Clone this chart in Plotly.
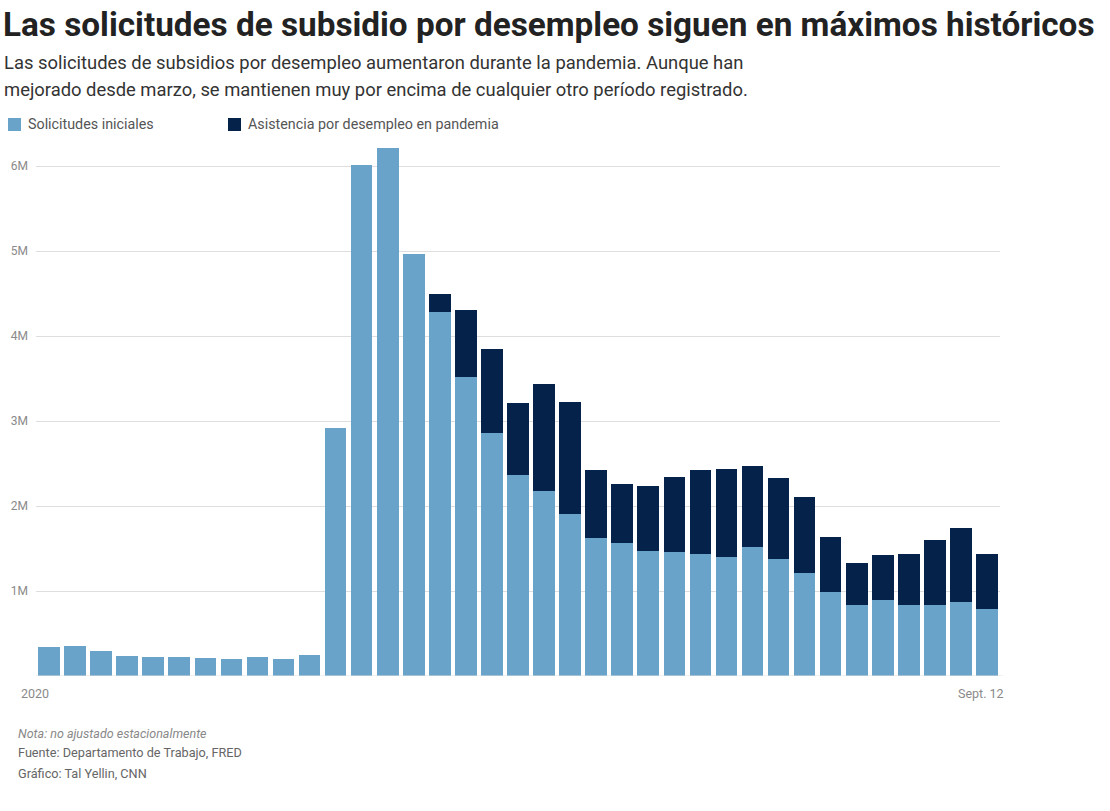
import plotly.graph_objects as go

weeks = ["Jan 4", "Jan 11", "Jan 18", "Jan 25", "Feb 1", "Feb 8", "Feb 15", "Feb 22",
         "Feb 29", "Mar 7", "Mar 14", "Mar 21", "Mar 28", "Apr 4", "Apr 11", "Apr 18",
         "Apr 25", "May 2", "May 9", "May 16", "May 23", "May 30", "Jun 6", "Jun 13",
         "Jun 20", "Jun 27", "Jul 4", "Jul 11", "Jul 18", "Jul 25", "Aug 1", "Aug 8",
         "Aug 15", "Aug 22", "Aug 29", "Sep 5", "Sep 12"]

# millions
initial_claims = [0.345, 0.355, 0.29, 0.24, 0.225, 0.225, 0.215, 0.205, 0.225, 0.205, 0.251,
                  2.92, 6.015, 6.21, 4.965, 4.28, 3.52, 2.86, 2.36, 2.18, 1.91, 1.62, 1.57,
                  1.47, 1.46, 1.43, 1.40, 1.52, 1.38, 1.21, 0.99, 0.84, 0.89, 0.83, 0.84,
                  0.87, 0.79]
pua_claims = [0, 0, 0, 0, 0, 0, 0, 0, 0, 0, 0,
              0, 0, 0, 0, 0.21, 0.79, 0.99, 0.85, 1.25, 1.31, 0.80, 0.69,
              0.77, 0.88, 0.99, 1.04, 0.95, 0.95, 0.90, 0.65, 0.49, 0.53, 0.60, 0.76,
              0.87, 0.65]
series_names = ["Solicitudes iniciales", "Asistencia por desempleo en pandemia"]

y_ticks = [1, 2, 3, 4, 5, 6]
y_tick_text = ["1M", "2M", "3M", "4M", "5M", "6M"]
x_labels = ["2020", "Sept. 12"]

LIGHT = "#69a3ca"
DARK = "#05224a"
W, H = 1110, 811
ML, MR, MT, MB = 36, 110, 140, 135
PW, PH = W - ML - MR, H - MT - MB


def px(x):
    return (x - ML) / PW


def py(y):
    return (H - MB - y) / PH


fig = go.Figure()
fig.add_trace(go.Bar(x=weeks, y=initial_claims, name=series_names[0],
                     marker=dict(color=LIGHT, line=dict(width=0))))
fig.add_trace(go.Bar(x=weeks, y=pua_claims, name=series_names[1],
                     marker=dict(color=DARK, line=dict(width=0))))

fig.update_layout(
    width=W, height=H,
    margin=dict(l=ML, r=MR, t=MT, b=MB, autoexpand=False),
    paper_bgcolor="white", plot_bgcolor="white",
    barmode="stack", bargap=0.17,
    font=dict(family="Roboto", color="#555"),
    showlegend=False,
    xaxis=dict(type="category", range=[-0.5, len(weeks) - 0.5], showticklabels=False,
               showgrid=False, zeroline=False, showline=False, ticks="", automargin=False),
    yaxis=dict(range=[0, PH / 85.0], tickvals=y_ticks, ticktext=y_tick_text,
               showgrid=True, gridcolor="#dedede", gridwidth=1, zeroline=False,
               showline=False, ticks="", ticklabelstandoff=7, automargin=False,
               tickfont=dict(size=12, color="#8a8a8a", family="Roboto")),
)

# baseline
fig.add_shape(type="line", xref="paper", yref="y", x0=0, x1=px(1003), y0=0, y1=0,
              line=dict(color="#e3e3e3", width=1))

# legend (manual, to match spacing)
for i, (name, col, lx) in enumerate([(series_names[0], LIGHT, 8), (series_names[1], DARK, 228)]):
    fig.add_shape(type="rect", xref="paper", yref="paper",
                  x0=px(lx), x1=px(lx + 13), y0=py(131), y1=py(118),
                  fillcolor=col, line=dict(width=0))
    fig.add_annotation(xref="paper", yref="paper", x=px(lx + 18), y=py(124.5), xanchor="left",
                       yanchor="middle", showarrow=False, text=name,
                       font=dict(size=14.3, color="#555", family="Roboto"))

# x labels
fig.add_annotation(x=weeks[0], y=0, xref="x", yref="y", text=x_labels[0], showarrow=False,
                   xanchor="center", yanchor="top", xshift=-14, yshift=-8,
                   font=dict(size=12.5, color="#8a8a8a", family="Roboto"))
fig.add_annotation(x=weeks[-1], y=0, xref="x", yref="y", text=x_labels[1], showarrow=False,
                   xanchor="center", yanchor="top", xshift=-6, yshift=-8,
                   font=dict(size=12.5, color="#8a8a8a", family="Roboto"))

# title & subtitle
fig.add_annotation(xref="paper", yref="paper", x=px(1), y=py(25), xanchor="left",
                   yanchor="middle", showarrow=False,
                   text="<b>Las solicitudes de subsidio por desempleo siguen en máximos históricos</b>",
                   font=dict(size=33.3, color="#222", family="Roboto"))
fig.add_annotation(xref="paper", yref="paper", x=px(2), y=py(62), xanchor="left",
                   yanchor="middle", showarrow=False,
                   text="Las solicitudes de subsidios por desempleo aumentaron durante la pandemia. Aunque han",
                   font=dict(size=18.4, color="#333", family="Roboto"))
fig.add_annotation(xref="paper", yref="paper", x=px(2), y=py(89), xanchor="left",
                   yanchor="middle", showarrow=False,
                   text="mejorado desde marzo, se mantienen muy por encima de cualquier otro período registrado.",
                   font=dict(size=18.4, color="#333", family="Roboto"))

# footer
fig.add_annotation(xref="paper", yref="paper", x=px(16), y=py(733), xanchor="left",
                   yanchor="middle", showarrow=False,
                   text="<i>Nota: no ajustado estacionalmente</i>",
                   font=dict(size=12.5, color="#888", family="Roboto"))
fig.add_annotation(xref="paper", yref="paper", x=px(16), y=py(752), xanchor="left",
                   yanchor="middle", showarrow=False,
                   text="Fuente: Departamento de Trabajo, FRED",
                   font=dict(size=12.7, color="#666", family="Roboto"))
fig.add_annotation(xref="paper", yref="paper", x=px(16), y=py(773), xanchor="left",
                   yanchor="middle", showarrow=False,
                   text="Gráfico: Tal Yellin, CNN",
                   font=dict(size=12.7, color="#666", family="Roboto"))

fig.write_html("out.html")
